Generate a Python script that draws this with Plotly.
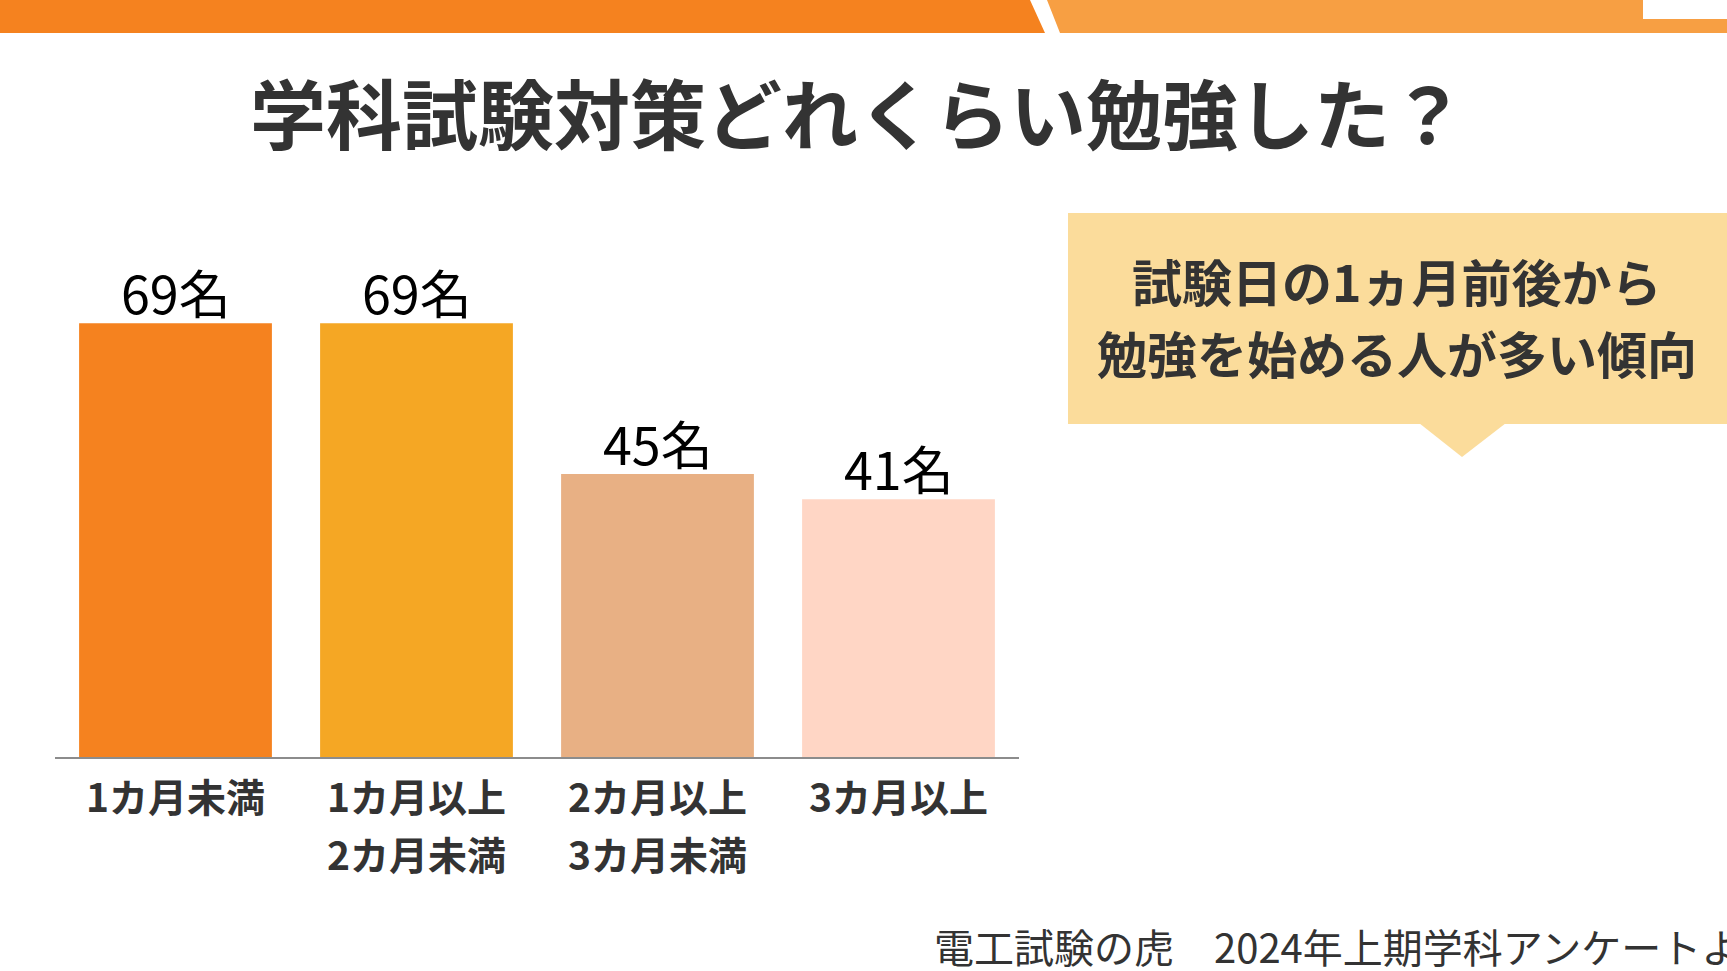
import plotly.graph_objects as go

W, H = 1727, 971

# ---- data ----
categories = ["1カ月未満", "1カ月以上\n2カ月未満", "2カ月以上\n3カ月未満", "3カ月以上"]
label_line1 = ["1カ月未満", "1カ月以上", "2カ月以上", "3カ月以上"]
label_line2 = ["", "2カ月未満", "3カ月未満", ""]
counts = [69, 69, 45, 41]
bar_colors = ["#F5821F", "#F5A724", "#E8B084", "#FFD6C5"]
title_text = "学科試験対策どれくらい勉強した？"
callout_lines = ["試験日の1ヵ月前後から", "勉強を始める人が多い傾向"]
footer_text = "電工試験の虎　2024年上期学科アンケートより"


def X(px):
    return px / W


def Y(py):
    return 1 - py / H


FONT = "Noto Sans CJK JP"
DARK = "#333333"

fig = go.Figure()
fig.add_trace(go.Bar(
    x=list(range(len(categories))),
    y=counts,
    marker=dict(color=bar_colors, line=dict(width=0)),
    hoverinfo="skip",
))

shapes = []
# top band
shapes.append(dict(type="path", xref="paper", yref="paper",
                   path=f"M 0,{Y(0)} L {X(1030)},{Y(0)} L {X(1045)},{Y(33)} L 0,{Y(33)} Z",
                   fillcolor="#F5821F", line=dict(width=0), layer="above"))
shapes.append(dict(type="path", xref="paper", yref="paper",
                   path=f"M {X(1047)},{Y(0)} L 1,{Y(0)} L 1,{Y(33)} L {X(1060)},{Y(33)} Z",
                   fillcolor="#F79F43", line=dict(width=0), layer="above"))
# logo box
shapes.append(dict(type="rect", xref="paper", yref="paper",
                   x0=X(1643), x1=1, y0=Y(19), y1=Y(0),
                   fillcolor="#FFFFFF", line=dict(width=0), layer="above"))
# callout box
shapes.append(dict(type="rect", xref="paper", yref="paper",
                   x0=X(1068), x1=1, y0=Y(424), y1=Y(213),
                   fillcolor="#FBDC9B", line=dict(width=0), layer="below"))
shapes.append(dict(type="path", xref="paper", yref="paper",
                   path=f"M {X(1419)},{Y(423)} L {X(1506)},{Y(423)} L {X(1462)},{Y(457)} Z",
                   fillcolor="#FBDC9B", line=dict(width=0), layer="below"))

annotations = []
annotations.append(dict(xref="paper", yref="paper", x=X(1690), y=Y(6),
                        xanchor="center", yanchor="bottom", showarrow=False,
                        text="<b>HOZAN</b>", font=dict(family="Liberation Sans", size=30, color="#0096DC")))
annotations.append(dict(xref="paper", yref="paper", x=X(858), y=Y(111),
                        xanchor="center", yanchor="middle", showarrow=False,
                        text=title_text,
                        font=dict(family=FONT, size=76, color=DARK, weight="bold")))
for i, line in enumerate(callout_lines):
    annotations.append(dict(xref="paper", yref="paper", x=X(1397), y=Y(280 + 72 * i),
                            xanchor="center", yanchor="middle", showarrow=False,
                            text=line,
                            font=dict(family=FONT, size=50, color=DARK, weight="bold")))
# value labels above bars
for i, v in enumerate(counts):
    annotations.append(dict(xref="x", yref="y", x=i, y=v,
                            xanchor="center", yanchor="bottom", showarrow=False,
                            yshift=-8,
                            text=f"{v}名",
                            font=dict(family=FONT, size=52, color="#000000")))
# category labels
for i in range(len(categories)):
    for j, txt in enumerate([label_line1[i], label_line2[i]]):
        if not txt:
            continue
        annotations.append(dict(xref="x", yref="paper", x=i, y=Y(795 + 58 * j),
                                xanchor="center", yanchor="middle", showarrow=False,
                                text=txt,
                                font=dict(family=FONT, size=39, color=DARK, weight="bold")))
annotations.append(dict(xref="paper", yref="paper", x=X(932), y=Y(946),
                        xanchor="left", yanchor="middle", showarrow=False,
                        text=footer_text,
                        font=dict(family=FONT, size=40, color=DARK)))

fig.update_layout(
    width=W, height=H, autosize=False,
    margin=dict(l=0, r=0, t=0, b=0),
    paper_bgcolor="#FFFFFF", plot_bgcolor="#FFFFFF",
    showlegend=False,
    bargap=0.2,
    xaxis=dict(domain=[X(55), X(1019)], range=[-0.5, 3.5],
               showticklabels=False, ticks="", showgrid=False, zeroline=False,
               showline=True, linecolor="#8C8C8C", linewidth=2, fixedrange=True),
    yaxis=dict(domain=[Y(757), Y(254)], range=[0, 80], visible=False,
               showgrid=False, zeroline=False, fixedrange=True),
    shapes=shapes,
    annotations=annotations,
)

fig.write_html("out.html", config={"displayModeBar": False},
               post_script="document.body.style.margin='0';document.body.style.overflow='hidden';")
